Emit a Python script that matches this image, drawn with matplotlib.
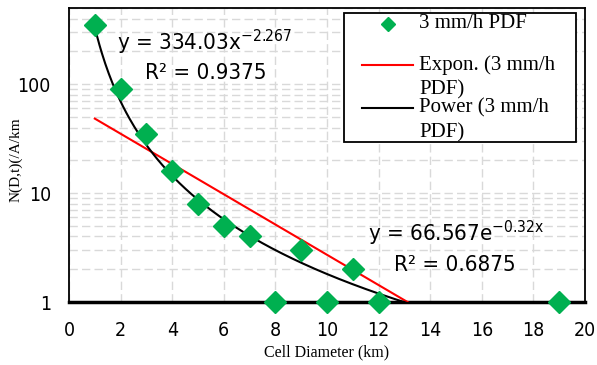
import numpy as np
import matplotlib
matplotlib.use("Agg")
import matplotlib.pyplot as plt
from matplotlib.ticker import FixedLocator, FuncFormatter, LogLocator, NullFormatter
from matplotlib.patches import Rectangle
from matplotlib.lines import Line2D

# ---- data ----
diameter_km = [1, 2, 3, 4, 5, 6, 7, 8, 9, 10, 11, 12, 19]
n_values = [350, 90, 35, 16, 8, 5, 4, 1, 3, 1, 2, 1, 1]
power_coef = 334.03
power_exp = -2.267
power_r2 = 0.9375
expon_coef = 66.567
expon_rate = -0.32
expon_r2 = 0.6875
x_ticks = [0, 2, 4, 6, 8, 10, 12, 14, 16, 18, 20]
y_ticks = [1, 10, 100]
series_label = "3 mm/h PDF"

cond = ["DejaVu Sans"]
serif = ["Liberation Serif", "DejaVu Serif"]
CST = "condensed"

fig = plt.figure(figsize=(5.97, 3.65), dpi=100)
ax = fig.add_axes([69/597, (365-302)/365, (585-69)/597, (302-8)/365])

ax.set_yscale("log")
ax.set_xlim(0, 20)
ax.set_ylim(1, 10**2.70)

ax.xaxis.set_major_locator(FixedLocator(x_ticks))
ax.yaxis.set_major_locator(FixedLocator(y_ticks))
ax.yaxis.set_minor_locator(LogLocator(base=10, subs=np.arange(2, 10)))
ax.yaxis.set_minor_formatter(NullFormatter())
ax.yaxis.set_major_formatter(FuncFormatter(lambda v, p: f"{v:g}"))
gkw = dict(color="#d9d9d9", linestyle=(0, (6, 3)), linewidth=1.0)
ax.grid(True, which="major", axis="both", **gkw)
ax.grid(True, which="minor", axis="y", **gkw)
ax.set_axisbelow(True)
ax.tick_params(which="both", length=0)
ax.tick_params(axis="x", pad=14)
ax.tick_params(axis="y", pad=13)
for lab in ax.get_xticklabels() + ax.get_yticklabels():
    lab.set_fontfamily(cond)
    lab.set_fontstretch(CST)
    lab.set_fontsize(14)

for s in ["left", "top", "right"]:
    ax.spines[s].set_linewidth(1.3)
    ax.spines[s].set_color("black")
ax.spines["bottom"].set_linewidth(2.5)
ax.spines["bottom"].set_color("black")

xs = np.linspace(1, 19, 400)
ax.plot(xs, expon_coef * np.exp(expon_rate * xs), color="#ff0000", lw=1.5, zorder=3)
ax.plot(xs, power_coef * xs ** power_exp, color="black", lw=1.5, zorder=3)

ax.plot(diameter_km, n_values, linestyle="none", marker="D", markersize=11,
        color="#00b050", zorder=4, clip_on=False)

ekw = dict(fontfamily=cond, fontstretch=CST, fontsize=16, ha="center", va="center")
ax.text(5.27, 243, f"y = {power_coef:.2f}x$^{{\\mathregular{{{power_exp:.3f}}}}}$", **ekw)
ax.text(5.3, 126, f"R² = {power_r2:.4f}", **ekw)
ax.text(15.0, 4.3, f"y = {expon_coef:.3f}e$^{{\\mathregular{{{expon_rate:.2f}x}}}}$", **ekw)
ax.text(14.95, 2.18, f"R² = {expon_r2:.4f}", **ekw)

def px(xp, yp):
    return ((xp - 69) / 516, (302 - yp) / 294)

x0, y0 = px(344, 142)
x1, y1 = px(576, 13)
ax.add_patch(Rectangle((x0, y0), x1 - x0, y1 - y0, transform=ax.transAxes,
                       facecolor="white", edgecolor="black", lw=1.3, zorder=6))
mx, my = px(388, 24)
ax.add_line(Line2D([mx], [my], transform=ax.transAxes, marker="D", markersize=7,
                   color="#00b050", linestyle="none", zorder=7))
for (yl, col) in [(65, "#ff0000"), (108, "black")]:
    a, b = px(362, yl)
    c, d = px(413, yl)
    ax.add_line(Line2D([a, c], [b, d], transform=ax.transAxes, color=col,
                       lw=1.5, zorder=7))
tx = px(419, 0)[0]
for yl, txt in [(24, series_label), (65, "Expon. (3 mm/h"), (90, "PDF)"),
                (108, "Power (3 mm/h"), (133, "PDF)")]:
    ax.text(tx, px(0, yl)[1], txt, transform=ax.transAxes, fontfamily=serif,
            fontsize=15, ha="left", va="center", zorder=8)

fig.text((69 + 585) / 2 / 597, 1 - 352 / 365, "Cell Diameter (km)", fontfamily=serif,
         fontsize=11.5, ha="center", va="center")
fig.text(16 / 597, 1 - 160 / 365, "N(D,t)(/A/km", fontfamily=serif, fontsize=11,
         rotation=90, ha="center", va="center")

fig.savefig("out.png", dpi=100)
